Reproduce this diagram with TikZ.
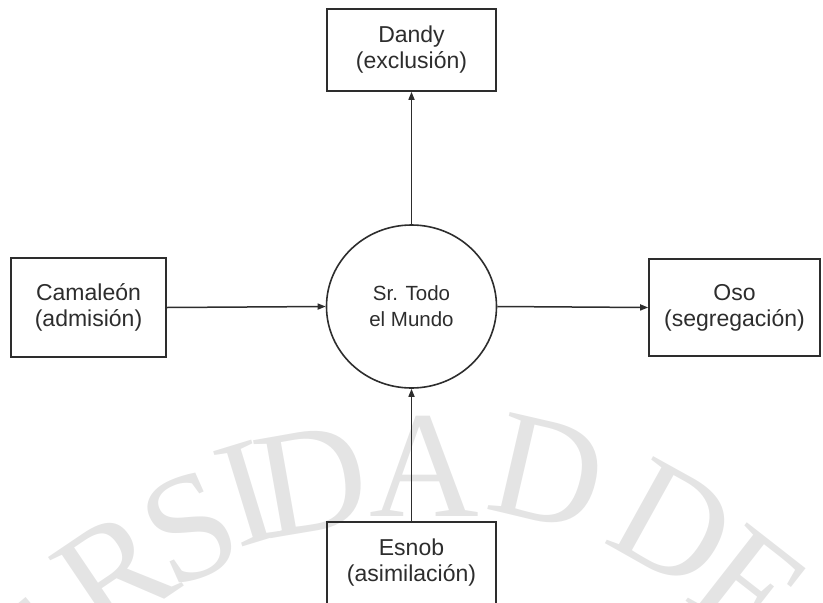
\documentclass[tikz,border=0pt]{standalone}
\usepackage{fontspec}
\setmainfont{Liberation Sans}
\newfontfamily\wmfont{Liberation Serif}
\usetikzlibrary{arrows.meta,shapes.geometric}
\definecolor{wm}{RGB}{228,228,228}
\definecolor{ink}{RGB}{45,45,45}
\begin{document}
\begin{tikzpicture}[x=1pt,y=-1pt,
  box/.style={draw=ink, line width=1.6pt, inner sep=0pt, align=center,
    font=\fontsize{23}{26}\selectfont, text=ink},
  hub/.style={ellipse, draw=ink, line width=1.6pt, inner sep=0pt, align=center,
    minimum width=170pt, minimum height=163pt, font=\fontsize{20.5}{26}\selectfont, text=ink},
  conn/.style={draw=ink, line width=1.5pt, -{Triangle[length=8pt,width=6pt]}},
  wml/.style={text=wm, font=\wmfont\fontsize{152}{152}\selectfont, inner sep=0pt}]
\useasboundingbox (0,0) rectangle (823,603);
\begin{scope}
\clip (0,0) rectangle (823,603);
\node[wml, rotate=40]  (w1) at (33,657) {E};
\node[wml, rotate=34]  (w2) at (115,573) {R};
\node[wml, rotate=24]  (w3) at (190,528) {S};
\node[wml, rotate=17]  (w4) at (247,494) {I};
\node[wml, rotate=10]  (w5) at (312,481) {D};
\node[wml, rotate=0]   (w6) at (424,466) {A};
\node[wml, rotate=-13] (w7) at (548,472) {D};
\node[wml, rotate=-29] (w8) at (674,525) {D};
\node[wml, rotate=-38] (w9) at (750,588) {E};
\end{scope}

\node[box, minimum width=169pt, minimum height=82pt] (dandy) at (411.5,50) {Dandy\\(exclusión)};
\node[box, minimum width=155pt, minimum height=99pt] (cam) at (88.5,307.5) {Camaleón\\(admisión)};
\node[box, minimum width=171pt, minimum height=97pt] (oso) at (734.5,307.5) {Oso\\(segregación)};
\node[box, minimum width=169pt, minimum height=82pt] (esnob) at (411.5,563) {Esnob\\(asimilación)};
\node[hub] (todo) at (411.5,306.5) {Sr. Todo\\el Mundo};

\draw[conn] (todo.north) -- (dandy.south);
\draw[conn] (esnob.north) -- (todo.south);
\draw[conn] (cam.east) -- (todo.west);
\draw[conn] (todo.east) -- (oso.west);
\end{tikzpicture}
\end{document}
